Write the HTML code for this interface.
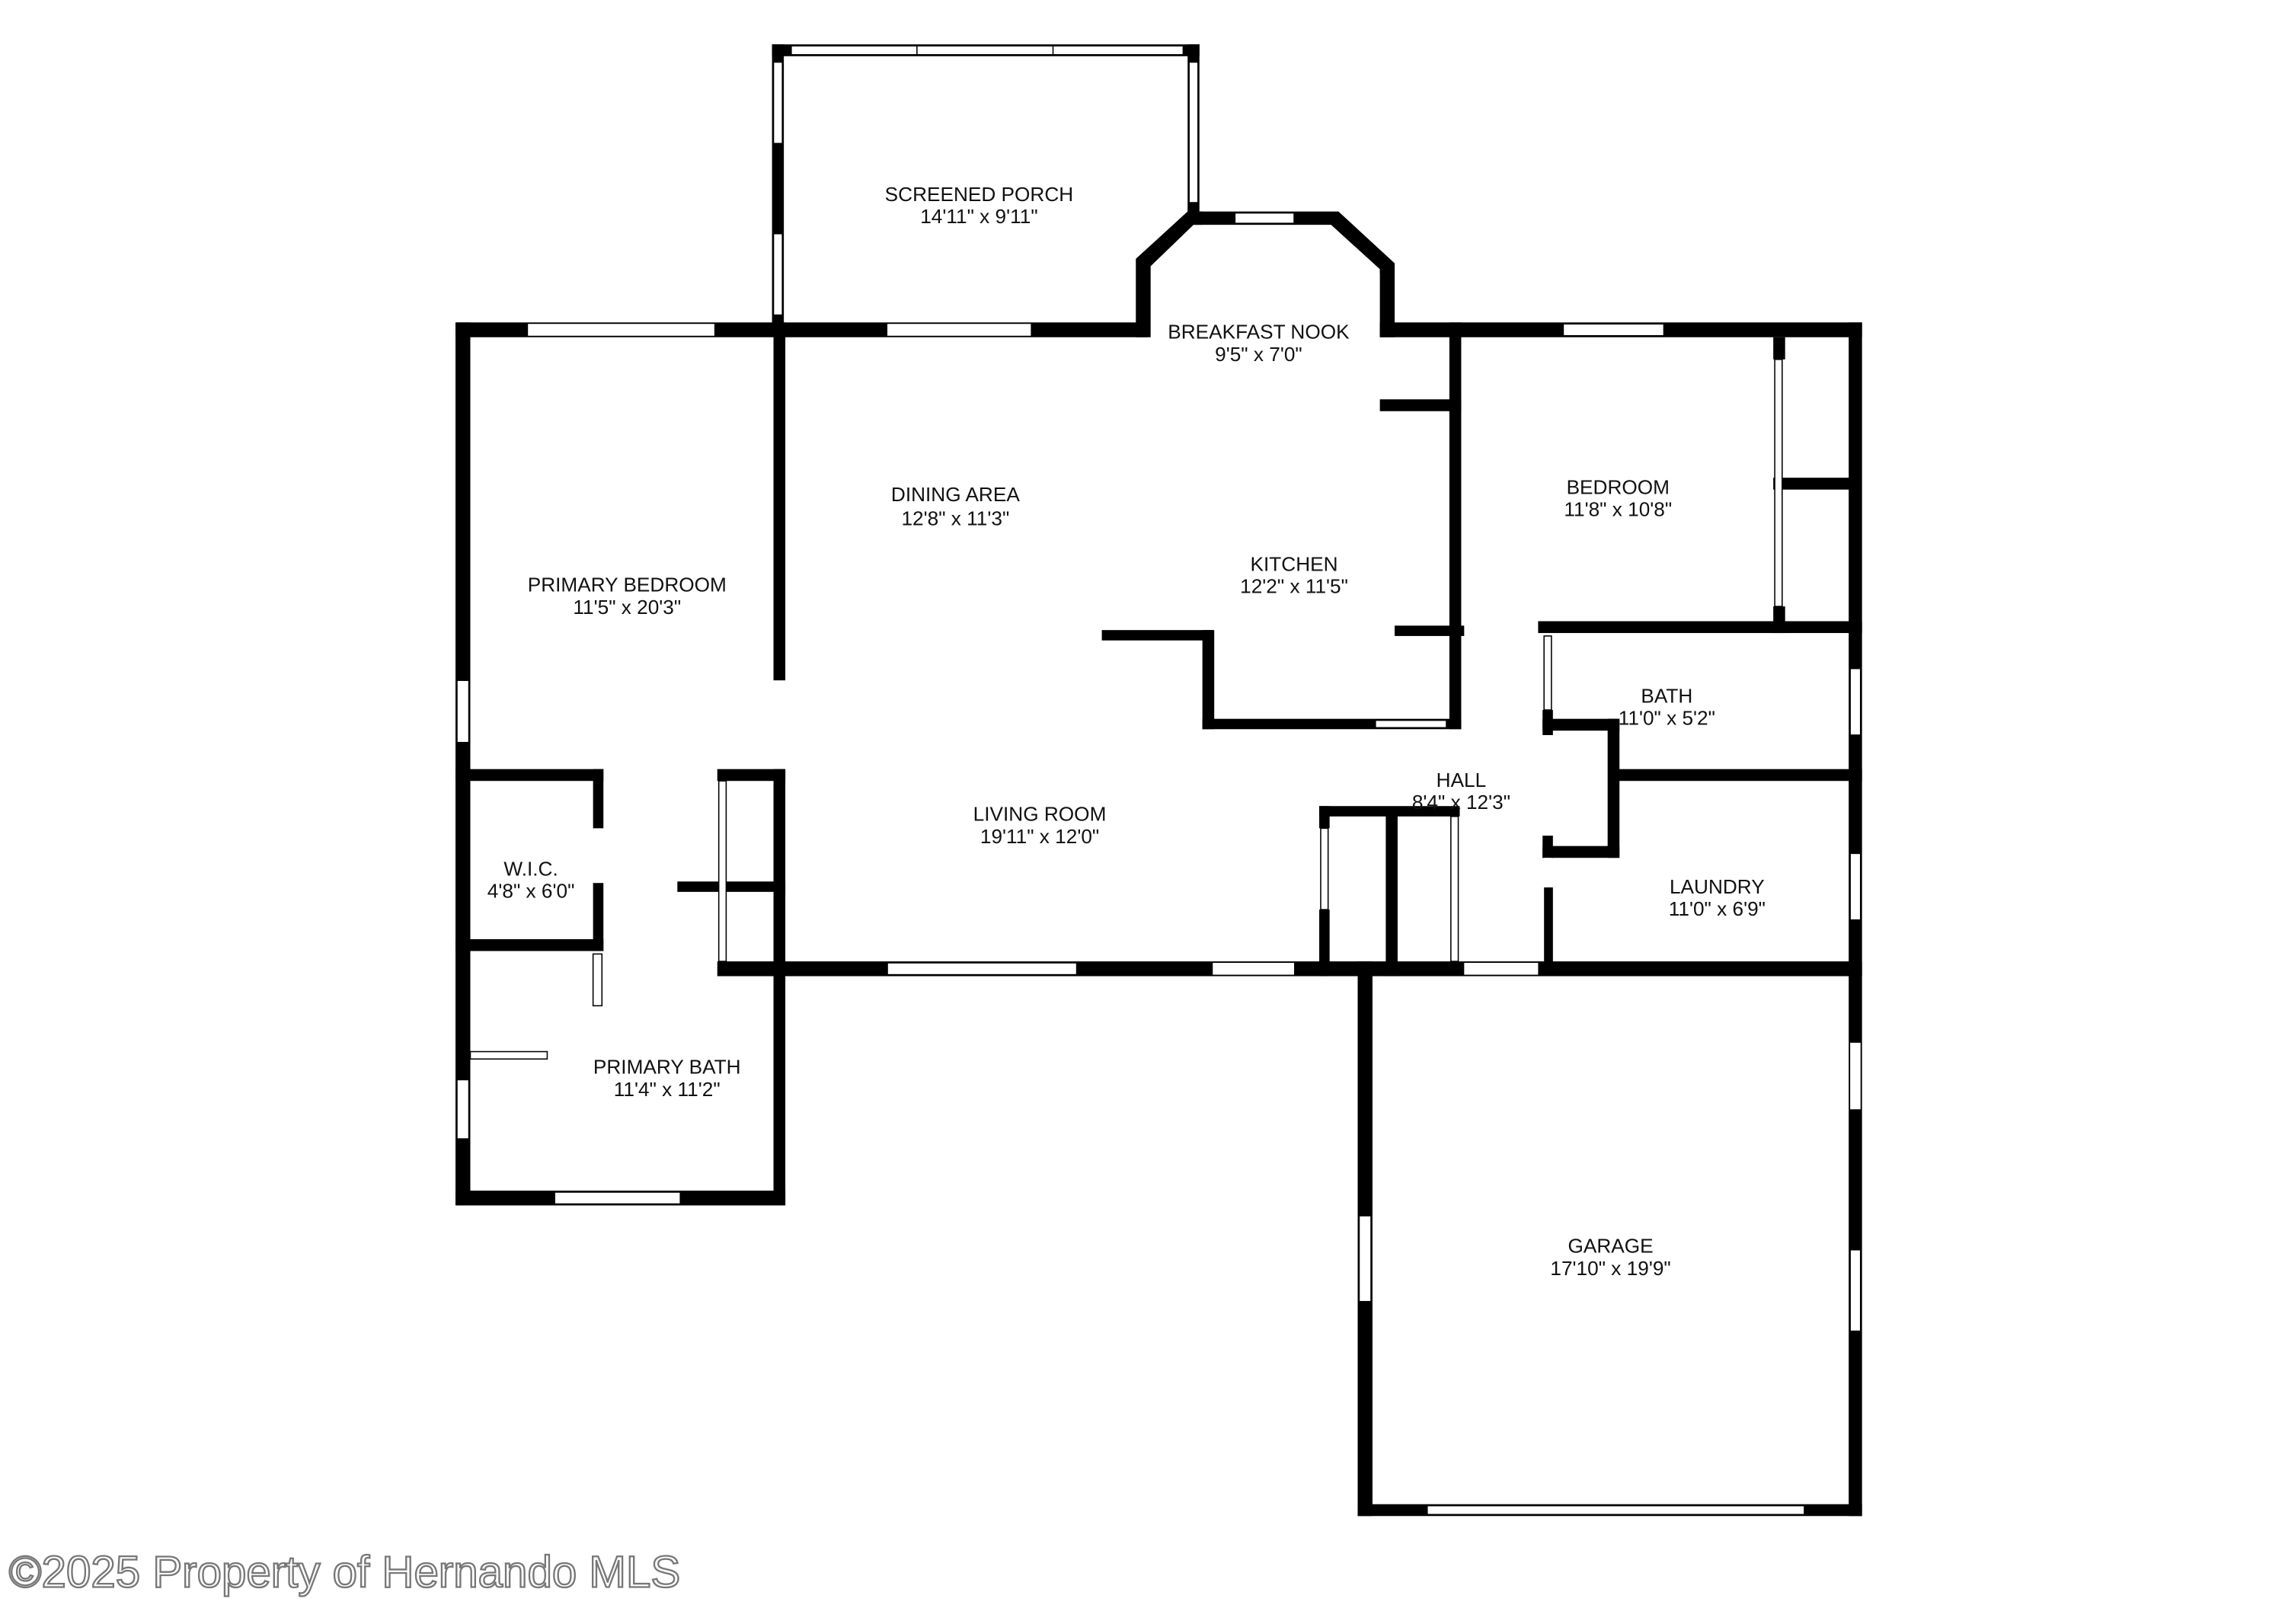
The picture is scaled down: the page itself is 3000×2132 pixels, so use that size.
<!DOCTYPE html>
<html><head><meta charset="utf-8"><style>
html,body{margin:0;padding:0;background:#fff;}
svg{display:block;}
text{font-family:"Liberation Sans",sans-serif;font-size:13.5px;fill:#111;text-anchor:middle;}
</style></head><body>
<svg width="3000" height="2132" viewBox="0 0 1545 1098" preserveAspectRatio="none" xmlns="http://www.w3.org/2000/svg">
<rect width="1545" height="1098" fill="#fff"/>
<g fill="#000">
<rect x="522" y="30" width="289" height="8"/>
<rect x="522" y="30" width="8" height="197"/>
<rect x="803" y="30" width="8" height="118"/>
<rect x="308" y="218" width="468" height="10"/>
<rect x="933" y="218" width="326" height="10"/>
<rect x="768" y="175" width="10" height="53"/>
<polygon points="768,175 803,143 813,143 813,152 807,152 778,180"/>
<rect x="803" y="143" width="102" height="9"/>
<polygon points="905,143 943,178 943,185 933,185 933,182 900,152"/>
<rect x="933" y="178" width="10" height="50"/>
<rect x="308" y="218" width="10" height="597"/>
<rect x="308" y="805" width="223" height="10"/>
<rect x="523" y="218" width="8" height="242"/>
<rect x="523" y="520" width="8" height="295"/>
<rect x="1250" y="218" width="9" height="807"/>
<rect x="918" y="1017" width="341" height="8"/>
<rect x="918" y="650" width="10" height="375"/>
<rect x="485" y="650" width="774" height="10"/>
<rect x="933" y="270" width="55" height="8"/>
<rect x="980" y="218" width="8" height="275"/>
<rect x="943" y="423" width="47" height="7"/>
<rect x="1199" y="228" width="8" height="15"/>
<rect x="1199" y="323" width="59" height="8"/>
<rect x="1199" y="410" width="8" height="18"/>
<rect x="1040" y="420" width="219" height="8"/>
<rect x="1093" y="520" width="166" height="8"/>
<rect x="745" y="426" width="75" height="7"/>
<rect x="813" y="426" width="8" height="67"/>
<rect x="813" y="486" width="175" height="7"/>
<rect x="1043" y="480" width="7" height="17"/>
<rect x="1043" y="486" width="52" height="8"/>
<rect x="1087" y="486" width="8" height="94"/>
<rect x="1043" y="572" width="52" height="8"/>
<rect x="1043" y="565" width="7" height="15"/>
<rect x="892" y="545" width="95" height="7"/>
<rect x="892" y="545" width="7" height="15"/>
<rect x="892" y="615" width="7" height="45"/>
<rect x="937" y="548" width="8" height="112"/>
<rect x="308" y="520" width="100" height="8"/>
<rect x="401" y="520" width="7" height="40"/>
<rect x="401" y="597" width="7" height="46"/>
<rect x="308" y="635" width="100" height="8"/>
<rect x="485" y="520" width="46" height="8"/>
<rect x="458" y="596" width="73" height="7"/>
</g>
<g fill="#fff" stroke="#000" stroke-width="0.8">
<rect x="535" y="31" width="265" height="6"/>
<line x1="620" y1="31" x2="620" y2="37"/><line x1="712" y1="31" x2="712" y2="37"/>
<rect x="523" y="42" width="6" height="55"/>
<rect x="523" y="158" width="6" height="55"/>
<rect x="804" y="42" width="6" height="95"/>
<rect x="835" y="144" width="40" height="7"/>
<rect x="357" y="219" width="126" height="8" stroke="none"/>
<rect x="600" y="219" width="97" height="8" stroke="none"/>
<rect x="1057" y="219" width="68" height="8"/>
<rect x="309" y="460" width="8" height="42"/>
<rect x="309" y="730" width="8" height="40"/>
<rect x="375" y="806" width="85" height="8"/>
<rect x="600" y="651" width="128" height="8"/>
<rect x="820" y="651" width="55" height="8" stroke="none"/>
<rect x="990" y="651" width="50" height="8" stroke="none"/>
<rect x="1251" y="452" width="7" height="45"/>
<rect x="1251" y="577" width="7" height="45"/>
<rect x="1251" y="705" width="7" height="45" stroke="none"/>
<rect x="1251" y="845" width="7" height="55"/>
<rect x="919" y="822" width="8" height="58"/>
<rect x="965" y="1018" width="255" height="6"/>
<rect x="930" y="487" width="48" height="5"/>
<rect x="401" y="645" width="6" height="35"/>
<rect x="318" y="711" width="52" height="5"/>
<rect x="486" y="528" width="5" height="122"/>
<rect x="893" y="560" width="5" height="55"/>
<rect x="981" y="552" width="5" height="98"/>
<rect x="1200" y="243" width="5" height="167"/>
<rect x="1044" y="430" width="5" height="50"/>
<rect x="1044" y="580" width="5" height="70" stroke="none"/>
</g>
<g fill="#000">
<rect x="1044" y="600" width="6" height="55"/>
</g>
<text x="662" y="136">SCREENED PORCH</text><text x="662" y="151">14'11" x 9'11"</text>
<text x="851" y="229">BREAKFAST NOOK</text><text x="851" y="244">9'5" x 7'0"</text>
<text x="646" y="339">DINING AREA</text><text x="646" y="355">12'8" x 11'3"</text>
<text x="1094" y="334">BEDROOM</text><text x="1094" y="349">11'8" x 10'8"</text>
<text x="424" y="400">PRIMARY BEDROOM</text><text x="424" y="415">11'5" x 20'3"</text>
<text x="875" y="386">KITCHEN</text><text x="875" y="401">12'2" x 11'5"</text>
<text x="1127" y="475">BATH</text><text x="1127" y="490">11'0" x 5'2"</text>
<text x="988" y="532">HALL</text><text x="988" y="547">8'4" x 12'3"</text>
<text x="703" y="555">LIVING ROOM</text><text x="703" y="570">19'11" x 12'0"</text>
<text x="359" y="592">W.I.C.</text><text x="359" y="607">4'8" x 6'0"</text>
<text x="1161" y="604">LAUNDRY</text><text x="1161" y="619">11'0" x 6'9"</text>
<text x="451" y="726">PRIMARY BATH</text><text x="451" y="741">11'4" x 11'2"</text>
<text x="1089" y="847">GARAGE</text><text x="1089" y="862">17'10" x 19'9"</text>
<text x="233" y="1073" style="font-size:30px;fill:#fff;stroke:#777;stroke-width:1.2">©2025 Property of Hernando MLS</text>
</svg>
</body></html>
